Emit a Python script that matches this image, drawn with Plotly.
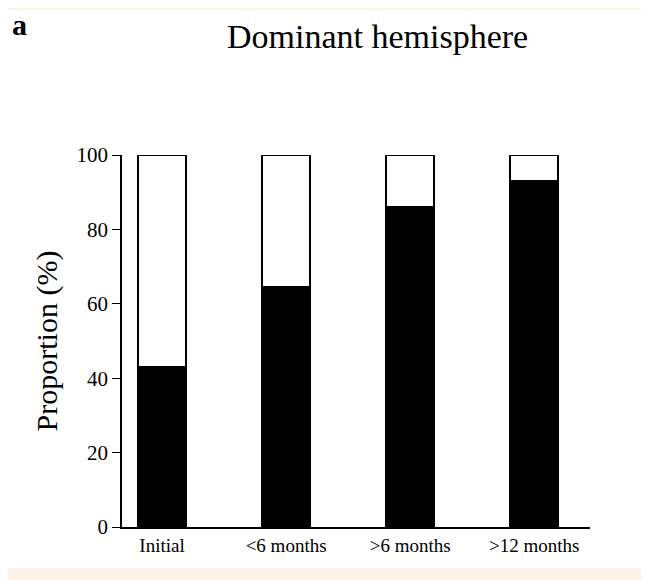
import plotly.graph_objects as go

categories = ["Initial", "<6 months", ">6 months", ">12 months"]
dominant = [43, 64.5, 86, 93]
rest = [100 - v for v in dominant]
y_ticks = [0, 20, 40, 60, 80, 100]

OFF = 8
W, H = 649 - OFF, 580 - OFF
ml, mr, mt, mb = 122 - OFF, 59, 155 - OFF, 53
pw, ph = W - ml - mr, H - mt - mb
def px(x): return (x - OFF - ml) / pw
def py(y): return (H - mb - (y - OFF)) / ph

fig = go.Figure()
fig.add_bar(x=categories, y=dominant, marker=dict(color="black", line=dict(color="black", width=2)), width=0.39)
fig.add_bar(x=categories, y=rest, marker=dict(color="white", line=dict(color="black", width=2)), width=0.39)

fig.update_layout(
    width=W, height=H, barmode="stack", showlegend=False,
    margin=dict(l=ml, r=mr, t=mt, b=mb),
    paper_bgcolor="#fbf1e4", plot_bgcolor="white",
    font=dict(family="Liberation Serif", color="black"),
    shapes=[dict(type="rect", xref="paper", yref="paper", layer="below",
                 x0=px(OFF), x1=px(649 - 8), y0=py(580 - 12), y1=py(OFF + 2),
                 fillcolor="white", line=dict(width=0))],
    annotations=[
        dict(text="<b>a</b>", xref="paper", yref="paper", x=px(10), y=py(24), xanchor="left", yanchor="middle", showarrow=False, font=dict(size=30)),
        dict(text="Dominant hemisphere", xref="paper", yref="paper", x=px(377), y=py(36), xanchor="center", yanchor="middle", showarrow=False, font=dict(size=34)),
    ],
    xaxis=dict(range=[-0.323, 3.45], showline=True, linecolor="black", linewidth=1.5, ticks="", tickfont=dict(size=19)),
    yaxis=dict(range=[0, 100], tickvals=y_ticks, showline=True, linecolor="black", linewidth=1.5, ticks="outside", ticklen=8, tickcolor="black",
               showgrid=False, zeroline=False, tickfont=dict(size=21),
               title=dict(text="Proportion (%)", font=dict(size=30), standoff=10)),
)
fig.write_html("out.html")
